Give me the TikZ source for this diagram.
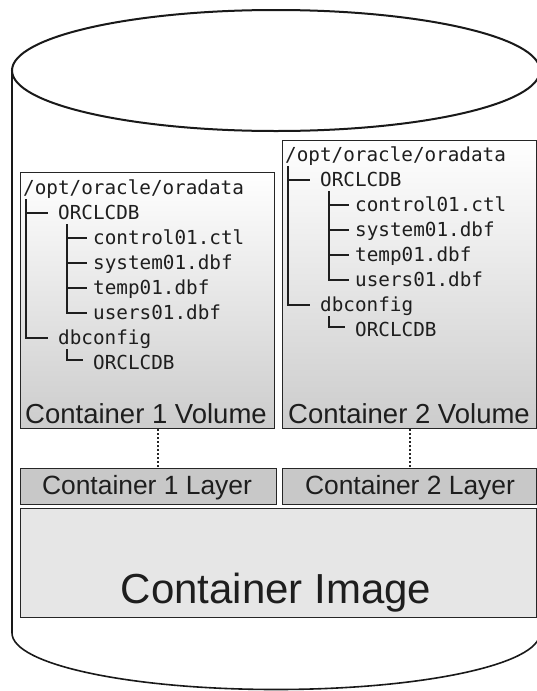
\documentclass[tikz,border=0pt]{standalone}
\usepackage{fontspec}
\setmainfont{Liberation Sans}
\newfontfamily\monof{DejaVu Sans Mono}
\definecolor{bord}{HTML}{262626}
\definecolor{txt}{HTML}{1E1E1E}
\definecolor{volbot}{HTML}{CCCCCC}
\definecolor{layfill}{HTML}{C8C8C8}
\definecolor{imgfill}{HTML}{E6E6E6}
\newcommand\dirtree[1]{%
  \node[mono] (#1r) at (3,0) {/opt/oracle/oradata};
  \node[mono] (#1a) at (38,25) {ORCLCDB};
  \node[mono] (#1aa) at (73,50) {control01.ctl};
  \node[mono] (#1ab) at (73,75) {system01.dbf};
  \node[mono] (#1ac) at (73,100) {temp01.dbf};
  \node[mono] (#1ad) at (73,125) {users01.dbf};
  \node[mono] (#1b) at (38,150) {dbconfig};
  \node[mono] (#1ba) at (73,175) {ORCLCDB};
  \draw[tree] (6,11) |- (28,150);
  \draw[tree] (6,25) -- (28,25);
  \draw[tree] (47,36) |- (67,125);
  \draw[tree] (47,50) -- (67,50);
  \draw[tree] (47,75) -- (67,75);
  \draw[tree] (47,100) -- (67,100);
  \draw[tree] (47,161) |- (63,172);
}
\begin{document}
\begin{tikzpicture}[x=1pt,y=-1pt,
  box/.style={draw=bord, line width=1.3pt, inner sep=0pt, anchor=north west},
  volbox/.style={box, top color=white, bottom color=volbot},
  laybox/.style={box, fill=layfill},
  imgbox/.style={box, fill=imgfill},
  mono/.style={anchor=base west, inner sep=0pt, yshift=-6pt, font=\monof\fontsize{19.3}{20}\selectfont, text=txt},
  tree/.style={draw=txt, line width=1.1pt},
  lbl/.style={anchor=base, inner sep=0pt, text=txt},
  cyl/.style={draw=black!90, line width=1.6pt},
  dotline/.style={draw=bord, line width=1.3pt, dash pattern=on 1.3pt off 2.7pt},
]
\useasboundingbox (0,0) rectangle (537,691);
\clip (0,0) rectangle (537,691);
\fill[white] (0,0) rectangle (537,691);
% cylinder
\draw[cyl, fill=white] (12,70.5) -- (12,633) .. controls (12,664.5) and (130.2,689.5) .. (276,689.5) .. controls (421.8,689.5) and (540,664.5) .. (540,633) -- (540,70.5);
\draw[cyl, line width=2pt] (276,70.5) ellipse [x radius=264, y radius=60.5];
% boxes
\node[volbox, minimum width=254pt, minimum height=256pt] (v1) at (20,172) {};
\node[volbox, minimum width=253.5pt, minimum height=288pt] (v2) at (282,140) {};
\node[laybox, minimum width=256pt, minimum height=36pt] (l1) at (20,468) {};
\node[laybox, minimum width=253.5pt, minimum height=36pt] (l2) at (282,468) {};
\node[imgbox, minimum width=515.5pt, minimum height=109pt] (img) at (20,508) {};
% directory trees
\begin{scope}[shift={(20,188)}]
  \dirtree{p}
\end{scope}
\begin{scope}[shift={(282,155)}]
  \dirtree{q}
\end{scope}
% labels
\node[lbl, font=\fontsize{27.5}{30}\selectfont] (v1t) at (146,423) {Container 1 Volume};
\node[lbl, font=\fontsize{27.5}{30}\selectfont] (v2t) at (409,423) {Container 2 Volume};
\node[lbl, font=\fontsize{26.4}{30}\selectfont] (l1t) at (147,494) {Container 1 Layer};
\node[lbl, font=\fontsize{26.4}{30}\selectfont] (l2t) at (410,494) {Container 2 Layer};
\node[lbl, font=\fontsize{42}{46}\selectfont] (imgt) at (276,603) {Container Image};
% dotted links
\coordinate (d1) at (158,0);
\coordinate (d2) at (410,0);
\draw[dotline] (v1.south -| d1) -- (l1.north -| d1);
\draw[dotline] (v2.south -| d2) -- (l2.north -| d2);
\end{tikzpicture}
\end{document}
